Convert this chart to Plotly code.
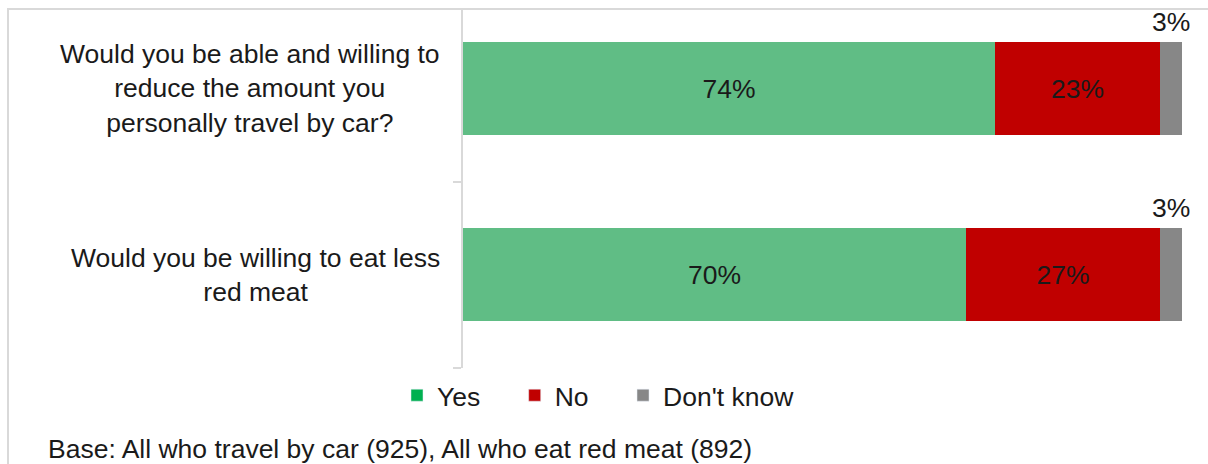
import plotly.graph_objects as go

# Survey responses (percent of respondents)
questions = [
    "Would you be able and willing to<br>reduce the amount you<br>personally travel by car?",
    "Would you be willing to eat less<br>red meat",
]
yes_pct = [74, 70]
no_pct = [23, 27]
dont_know_pct = [3, 3]
legend_names = ["Yes", "No", "Don't know"]
footnote = "Base: All who travel by car (925), All who eat red meat (892)"

FONT = "Liberation Sans, Arial, sans-serif"
FS = 26.5
TEXT = "#1a1a1a"
GRID = "#d9d9d9"
BAR_GREEN = "#60bd85"
LEG_GREEN = "#00b050"
RED = "#c00000"
GREY = "#878787"

W, H = 1208, 464
ML, MR, MT, MB = 463, 26, 10, 95.5
PW, PH = W - ML - MR, H - MT - MB

ypos = list(range(len(questions)))

fig = go.Figure()
series = [
    (legend_names[0], yes_pct, BAR_GREEN, LEG_GREEN, True, 4),
    (legend_names[1], no_pct, RED, RED, True, 4),
    (legend_names[2], dont_know_pct, GREY, GREY, False, 0),
]
for name, vals, col, legcol, inside, pad in series:
    fig.add_trace(go.Bar(
        y=ypos, x=vals, orientation="h", name=name,
        marker=dict(color=col, line=dict(width=0)),
        width=0.5,
        text=[f"{v}%" for v in vals] if inside else None,
        textposition="inside" if inside else "none",
        insidetextanchor="middle",
        textfont=dict(family=FONT, size=FS, color=TEXT),
        showlegend=False, hoverinfo="skip",
    ))
# legend entries (padded with non-breaking spaces for item spacing)
for name, vals, col, legcol, inside, pad in series:
    fig.add_trace(go.Bar(
        y=[None], x=[None], orientation="h", name=name + "\u00a0" * pad,
        marker=dict(color=legcol), showlegend=True,
    ))

annotations = []
# small "Don't know" share labelled above its segment
for i, (a, b, c) in enumerate(zip(yes_pct, no_pct, dont_know_pct)):
    annotations.append(dict(
        x=a + b + c / 2, y=i - 0.25, xref="x", yref="y",
        text=f"{c}%", showarrow=False, yanchor="bottom", yshift=3,
        font=dict(family=FONT, size=FS, color=TEXT),
    ))
# question labels
for i, q in enumerate(questions):
    annotations.append(dict(
        x=(442 - ML) / PW, y=i, xref="paper", yref="y",
        text=q, showarrow=False, xanchor="right", yanchor="middle",
        align="center", font=dict(family=FONT, size=FS, color=TEXT),
    ))
annotations.append(dict(
    x=(46 - ML) / PW, y=(PH + MT - 450) / PH, xref="paper", yref="paper",
    text=footnote, showarrow=False, xanchor="left", yanchor="middle",
    font=dict(family=FONT, size=FS, color=TEXT),
))

# light frame around the chart
shapes = [dict(
    type="rect", xref="paper", yref="paper",
    x0=(8 - ML) / PW, x1=(W + 10 - ML) / PW,
    y0=(PH + MT - (H + 10)) / PH, y1=(PH + MT - 9) / PH,
    line=dict(color=GRID, width=2), fillcolor="rgba(0,0,0,0)", layer="below",
)]

fig.update_layout(
    width=W, height=H,
    margin=dict(l=ML, r=MR, t=MT, b=MB, pad=0),
    barmode="stack", bargap=0,
    plot_bgcolor="white", paper_bgcolor="white",
    font=dict(family=FONT, size=FS, color=TEXT),
    xaxis=dict(range=[0, 100], visible=False, fixedrange=True),
    yaxis=dict(
        range=[1 + (MT + PH - 275) / 186.5, -(88.5 - MT) / 186.5],
        tickvals=[0.5, 1.5], ticktext=["", ""],
        ticks="outside", ticklen=8, tickcolor=GRID, tickwidth=2,
        showline=True, linecolor=GRID, linewidth=2,
        showgrid=False, zeroline=False, fixedrange=True,
    ),
    legend=dict(
        orientation="h", traceorder="normal",
        x=(397 - ML) / PW, xanchor="left",
        y=(PH + MT - 396) / PH, yanchor="middle",
        font=dict(family=FONT, size=FS, color=TEXT),
        itemclick=False, itemdoubleclick=False,
    ),
    annotations=annotations, shapes=shapes,
)

fig.write_html("out.html")
